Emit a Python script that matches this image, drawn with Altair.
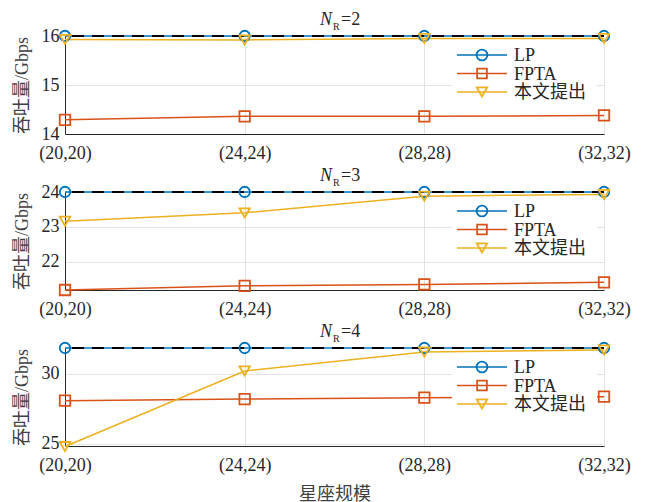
import altair as alt
import pandas as pd

# ---------------- data ----------------
x_labels = ["(20,20)", "(24,24)", "(28,28)", "(32,32)"]
series_names = ["LP", "FPTA", "本文提出"]
nr_values = [2, 3, 4]

lp_nr2 = [16.0, 16.0, 16.0, 16.0]
fpta_nr2 = [14.29, 14.36, 14.36, 14.38]
prop_nr2 = [15.93, 15.92, 15.95, 15.95]

lp_nr3 = [24.0, 24.0, 24.0, 24.0]
fpta_nr3 = [21.18, 21.30, 21.34, 21.40]
prop_nr3 = [23.16, 23.40, 23.88, 23.93]

lp_nr4 = [31.84, 31.84, 31.84, 31.84]
fpta_nr4 = [28.08, 28.20, 28.30, 28.37]
prop_nr4 = [24.81, 30.20, 31.55, 31.70]

y_domains = [[14, 16], [21.18, 24], [24.85, 31.84]]
y_ticks = [[14, 15, 16], [22, 23, 24], [25, 30]]

# ---------------- style ----------------
colors = ["#0072BD", "#D95319", "#EDB120"]
shapes = ["circle", "square", "triangle-down"]
sizes = [115, 95, 110]
FONT = "Liberation Serif, Noto Sans CJK SC"
TXT = "#262626"
W, H = 539, 98

one = pd.DataFrame({"k": [0]})


def panel(nr, lp, fpta, prop, domain, ticks, show_xtitle):
    df = pd.DataFrame({
        "x": x_labels * 3,
        "v": lp + fpta + prop,
        "s": [n for n in series_names for _ in x_labels],
    })
    xenc = alt.X(
        "x:N", sort=x_labels,
        scale=alt.Scale(type="point", padding=0),
        axis=alt.Axis(title="星座规模" if show_xtitle else None, labelAngle=0,
                      grid=True, titlePadding=11),
    )
    yenc = alt.Y(
        "v:Q",
        scale=alt.Scale(domain=domain, nice=False, zero=False),
        axis=alt.Axis(values=[float(t) for t in ticks], labelExpr="round(datum.value) + ''",
                      labelOverlap=False, title="吞吐量/Gbps", grid=True, titlePadding=10),
    )
    cenc = alt.Color("s:N", scale=alt.Scale(domain=series_names, range=colors), legend=None)
    senc = alt.Shape("s:N", scale=alt.Scale(domain=series_names, range=shapes), legend=None)

    base = alt.Chart(df)
    lines = base.mark_line(strokeWidth=1.5).encode(x=xenc, y=yenc, color=cenc)
    bound = alt.Chart(pd.DataFrame({"v": [lp[0]]})).mark_rule(
        color="black", strokeWidth=2, strokeDash=[12, 8]
    ).encode(y=yenc)
    legbox = alt.Chart(one).mark_rect(fill="white", stroke=None).encode(
        x=alt.value(387), x2=alt.value(532), y=alt.value(8), y2=alt.value(67)
    )
    points = base.mark_point(filled=False, strokeWidth=1.8, size=110, opacity=1).encode(
        x=xenc, y=yenc, color=cenc, shape=senc
    )

    layers = [lines, bound, legbox, points]

    rows = [19, 37.5, 56]
    for name, c, sh, sz, ry in zip(series_names, colors, shapes, sizes, rows):
        layers.append(alt.Chart(one).mark_rule(color=c, strokeWidth=1.5).encode(
            x=alt.value(392), x2=alt.value(442), y=alt.value(ry)))
        layers.append(alt.Chart(one).mark_point(
            shape=sh, color=c, filled=False, size=sz, strokeWidth=1.8, opacity=1
        ).encode(x=alt.value(417), y=alt.value(ry)))
        layers.append(alt.Chart(one).mark_text(
            align="left", baseline="middle", font=FONT, fontSize=18, color=TXT
        ).encode(x=alt.value(449), y=alt.value(ry + 1), text=alt.value(name)))

    # title  N_R = nr
    layers.append(alt.Chart(one).mark_text(
        align="right", baseline="alphabetic", font="Liberation Serif", fontSize=18,
        fontStyle="italic", color=TXT
    ).encode(x=alt.value(267), y=alt.value(-11), text=alt.value("N")))
    layers.append(alt.Chart(one).mark_text(
        align="left", baseline="alphabetic", font="Liberation Serif", fontSize=10, color=TXT
    ).encode(x=alt.value(268), y=alt.value(-6), text=alt.value("R")))
    layers.append(alt.Chart(one).mark_text(
        align="left", baseline="alphabetic", font="Liberation Serif", fontSize=18, color=TXT
    ).encode(x=alt.value(276), y=alt.value(-11), text=alt.value("=" + str(nr))))

    return alt.layer(*layers).properties(width=W, height=H)


p1 = panel(nr_values[0], lp_nr2, fpta_nr2, prop_nr2, y_domains[0], y_ticks[0], False)
p2 = panel(nr_values[1], lp_nr3, fpta_nr3, prop_nr3, y_domains[1], y_ticks[1], False)
p3 = panel(nr_values[2], lp_nr4, fpta_nr4, prop_nr4, y_domains[2], y_ticks[2], True)

chart = alt.vconcat(p1, p2, p3, spacing=5).properties(
    padding={"left": 5, "top": 3, "right": 5, "bottom": 2}
).configure_view(stroke=None).configure_axis(
    domainColor=TXT, domainWidth=1, tickSize=0, gridColor="#e3e3e3", gridWidth=1,
    labelFont=FONT, labelFontSize=18, labelColor=TXT, labelPadding=6,
    titleFont=FONT, titleFontSize=18, titleFontWeight="normal", titleColor="#404040",
).configure_axisX(labelPadding=10)

chart.save("out.html", embed_options={"renderer": "svg", "actions": False})
